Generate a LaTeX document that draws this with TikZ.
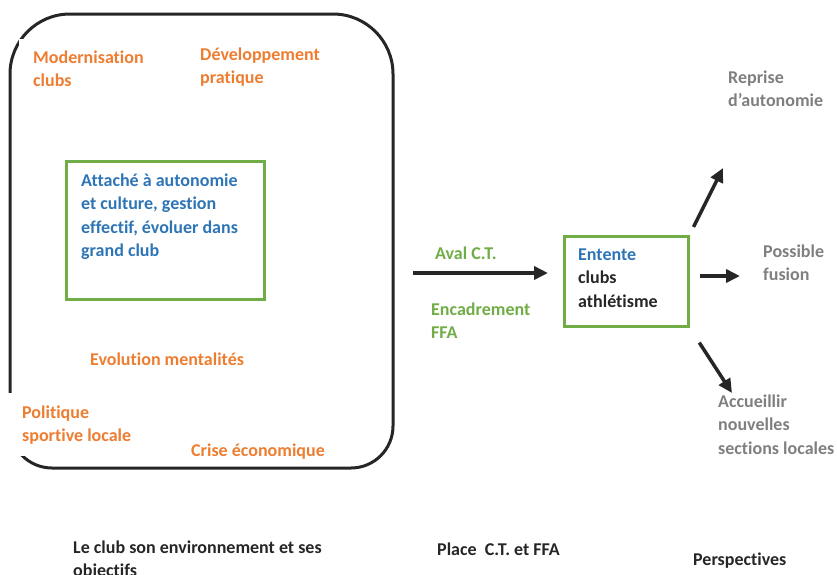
\documentclass[tikz,border=0pt]{standalone}
\usepackage{fontspec}
\setmainfont{Carlito}[Ligatures=NoCommon]
\usetikzlibrary{arrows.meta}
\definecolor{envorange}{HTML}{ED7D31}
\definecolor{clubblue}{HTML}{2E75B6}
\definecolor{ffagreen}{HTML}{70AD47}
\definecolor{futgray}{HTML}{7F7F7F}
\definecolor{darktxt}{HTML}{262626}
\tikzset{
  lbl/.style={anchor=base west, inner sep=0pt, align=left,
    font=\bfseries\fontsize{18}{23.6}\selectfont},
  envlbl/.style={lbl, text=envorange},
  ctlbl/.style={lbl, text=ffagreen},
  futlbl/.style={lbl, text=futgray},
  titlelbl/.style={lbl, text=darktxt},
  greenbox/.style={draw=ffagreen, line width=2.5pt, anchor=north west},
  bigarrow/.style={line width=3.5pt, darktxt, -{Triangle[length=14pt,width=13pt]}}
}

\begin{document}
\begin{tikzpicture}[x=1pt, y=-1pt]
    \clip (0,0) rectangle (837,574);

    % the club and its environment (multi-line labels sit on their last line)
    \draw [line width=3pt, darktxt, rounded corners=60] (10,240) -- (10,14) -- (393,14) -- (393,240)
      [rounded corners=42] -- (393,468) -- (10,468) -- cycle;
    \node [envlbl, fill=white, inner xsep=14pt, inner ysep=11pt] (modern) at (19,86.6) {Modernisation\\clubs};
    \node [envlbl] (devpt) at (200,83.6) {Développement\\pratique};
    \node [greenbox, minimum width=198, minimum height=138] (attache) at (65,160) {};
    \node [lbl, text=clubblue] (attachetxt) at (81,256.8) {Attaché à autonomie\\et culture, gestion\\effectif, évoluer dans\\grand club};
    \node [envlbl] (mental) at (90,365) {Evolution mentalités};
    \node [envlbl, fill=white, inner xsep=17pt, inner ysep=12pt] (politique) at (5,441.6) {Politique\\sportive locale};
    \node [envlbl] (crise) at (191,456) {Crise économique};

    % place of C.T. and FFA
    \node [ctlbl] (aval) at (435,259) {Aval C.T.};
    \node [ctlbl] (encadr) at (431,338.6) {Encadrement\\FFA};
    \node [greenbox, minimum width=124, minimum height=90] (entente) at (563,235) {};
    \node [lbl, text=darktxt] (ententetxt) at (578,307.2) {\textcolor{clubblue}{Entente}\\clubs\\athlétisme};
    \coordinate (avalin) at (413,273);
    \draw [bigarrow, shorten >=15pt] (avalin) -- (avalin -| entente.west);

    % perspectives
    \node [futlbl] (reprise) at (728,106.6) {Reprise\\d’autonomie};
    \node [futlbl] (fusion) at (763,280.6) {Possible\\fusion};
    \node [futlbl] (accueil) at (718,454.2) {Accueillir\\nouvelles\\sections locales};
    \coordinate (repriseend) at (723,168);
    \coordinate (fusionend) at (740,276);
    \coordinate (accueilend) at (732,393);
    \draw [bigarrow, shorten <=9pt] (entente.north east) -- (repriseend);
    \draw [bigarrow, shorten <=10pt] (entente.east |- fusionend) -- (fusionend);
    \draw [bigarrow, shorten <=18pt] (entente.south east) -- (accueilend);

    % captions
    \node [titlelbl] (captclub) at (73,576.6) {Le club son environnement et ses\\objectifs};
    \node [titlelbl] (captct) at (437,555) {Place\ \ C.T. et FFA};
    \node [titlelbl] (captfut) at (693,565) {Perspectives};
\end{tikzpicture}
\end{document}
